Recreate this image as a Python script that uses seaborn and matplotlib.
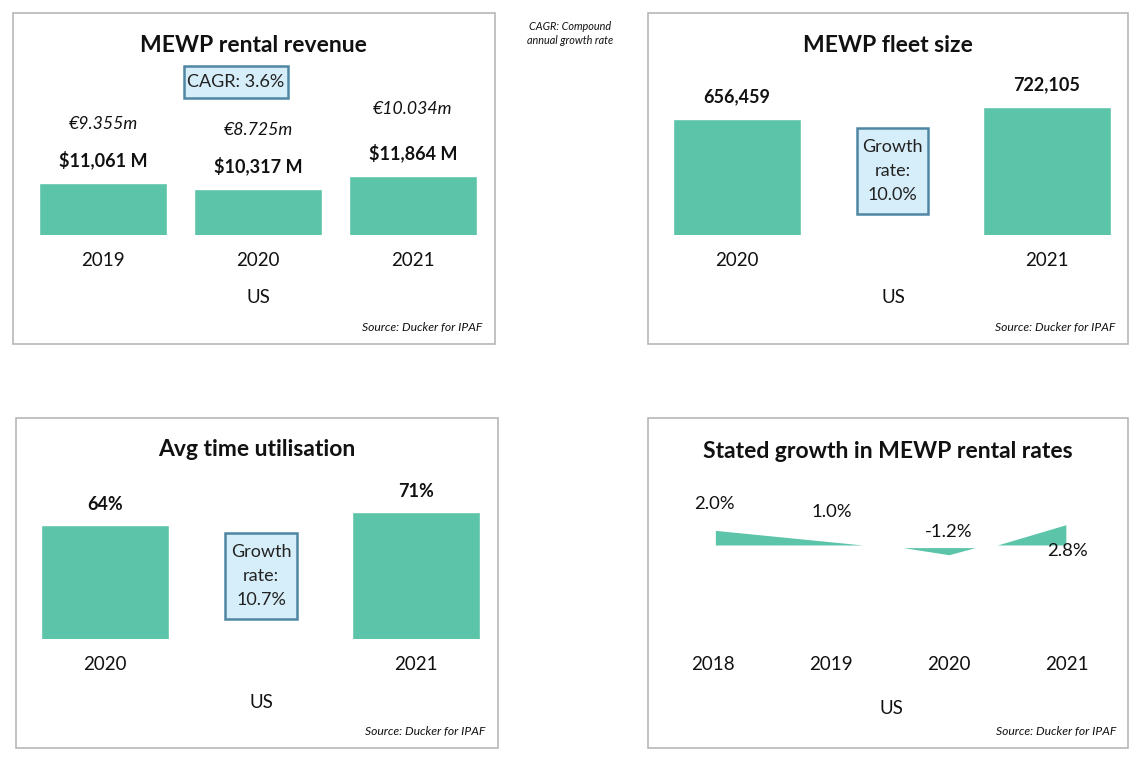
import matplotlib
matplotlib.use("Agg")
import matplotlib.pyplot as plt
from matplotlib.patches import Rectangle
import seaborn as sns

sns.set_theme(style="white")
plt.rcParams["font.family"] = ["Lato", "DejaVu Sans"]

W, H = 1140, 765
BAR = "#5bc4a9"

rev_years = ["2019", "2020", "2021"]
rev_usd = [11061, 10317, 11864]
rev_labels = ["$11,061 M", "$10,317 M", "$11,864 M"]
rev_eur = ["€9.355m", "€8.725m", "€10.034m"]

fleet_years = ["2020", "2021"]
fleet_size = [656459, 722105]
fleet_labels = ["656,459", "722,105"]

util_years = ["2020", "2021"]
util_pct = [64, 71]
util_labels = ["64%", "71%"]

rate_years = ["2018", "2019", "2020", "2021"]
rate_labels = ["2.0%", "1.0%", "-1.2%", "2.8%"]
# the wedges as they appear in the picture, one per run of the area
wedge_a_pos = [0.02, 1.27]
wedge_a_val = [1.95, 0.0]
wedge_b_pos = [1.61, 2.0, 2.22]
wedge_b_val = [-0.35, -1.3, -0.35]
wedge_c_pos = [2.41, 2.99]
wedge_c_val = [0.0, 2.7]

fig = plt.figure(figsize=(W / 100, H / 100), dpi=100, facecolor="white")


def fx(x):
    return x / W


def fy(y):
    return 1 - y / H


def put(x, y, s, size=13, ha="center", **kw):
    return fig.text(fx(x), fy(y), s, fontsize=size, ha=ha, va="center", color="#111111", **kw)


def frame(x0, y0, x1, y1):
    fig.add_artist(Rectangle((fx(x0), fy(y1)), (x1 - x0) / W, (y1 - y0) / H, transform=fig.transFigure,
                             fill=False, edgecolor="#b8b8b8", linewidth=1.2))


def callout(x0, y0, x1, y1, s):
    fig.add_artist(Rectangle((fx(x0), fy(y1)), (x1 - x0) / W, (y1 - y0) / H, transform=fig.transFigure,
                             facecolor="#d6eef9", edgecolor="#4f86a3", linewidth=1.8, zorder=5))
    fig.text(fx((x0 + x1) / 2), fy((y0 + y1) / 2), s, fontsize=13, ha="center", va="center",
             color="#222222", linespacing=1.6, zorder=6)


def make_axes(x0, x1, top, base, first, step):
    ax = fig.add_axes([fx(x0), fy(base), (x1 - x0) / W, (base - top) / H])
    ax.patch.set_alpha(0)
    sns.despine(ax=ax, left=True, bottom=True, top=True, right=True)
    ax._px = (x0, x1, first, step)
    return ax


def fix_axes(ax, ymin, ymax):
    x0, x1, first, step = ax._px
    ax.set_xlim((x0 - first) / step, (x1 - first) / step)
    ax.set_ylim(ymin, ymax)
    ax.set_xlabel("")
    ax.set_ylabel("")
    ax.set_yticks([])
    ax.tick_params(axis="x", length=0, pad=12, labelsize=13.5, labelcolor="#111111")


def bars(ax, cats, vals, ymin, ymax, width):
    sns.barplot(x=cats, y=vals, color=BAR, saturation=1, width=width, ax=ax)
    fix_axes(ax, ymin, ymax)


def above(ax, i, v, dy, s, **kw):
    ax.annotate(s, (i, v), xytext=(0, dy * 0.72), textcoords="offset points", ha="center", va="center",
                color="#111111", **kw)


# revenue
frame(13, 13, 495, 344)
ax1 = make_axes(20, 488, 60, 235, 103, 155)
bars(ax1, rev_years, rev_usd, 4880, 25713, 0.825)
for i, v in enumerate(rev_usd):
    above(ax1, i, v, 23, rev_labels[i], fontsize=13, fontweight="bold")
    above(ax1, i, v, [59, 59, 67][i], rev_eur[i], fontsize=12.7, fontstyle="italic")
put(253, 45, "MEWP rental revenue", 16.5, fontweight="bold")
callout(184, 66, 288, 98, "CAGR: 3.6%")
put(258, 298, "US", 13.5)
put(482, 328, "Source: Ducker for IPAF", 8.7, ha="right", fontstyle="italic")

put(570, 27, "CAGR: Compound", 7.8, fontstyle="italic")
put(570, 40, "annual growth rate", 7.8, fontstyle="italic")

# fleet
frame(648, 13, 1128, 344)
ax2 = make_axes(654, 1124, 60, 235, 737, 310)
bars(ax2, fleet_years, fleet_size, 24500, 980500, 0.41)
for i, v in enumerate(fleet_size):
    above(ax2, i, v, 23, fleet_labels[i], fontsize=13, fontweight="bold")
put(888, 45, "MEWP fleet size", 16.5, fontweight="bold")
callout(857, 128, 928, 214, "Growth\nrate:\n10.0%")
put(893, 298, "US", 13.5)
put(1115, 328, "Source: Ducker for IPAF", 8.7, ha="right", fontstyle="italic")

# utilisation
frame(16, 418, 498, 748)
ax3 = make_axes(22, 492, 480, 639, 105, 311)
bars(ax3, util_years, util_pct, 2.5, 88.1, 0.41)
for i, v in enumerate(util_pct):
    above(ax3, i, v, 20, util_labels[i], fontsize=13, fontweight="bold")
put(257, 450, "Avg time utilisation", 16.5, fontweight="bold")
callout(225, 533, 297, 619, "Growth\nrate:\n10.7%")
put(261, 702, "US", 13.5)
put(485, 732, "Source: Ducker for IPAF", 8.7, ha="right", fontstyle="italic")

# rental rates
frame(648, 418, 1128, 748)
ax4 = make_axes(654, 1126, 490, 639, 713, 118)
sns.lineplot(x=wedge_a_pos, y=wedge_a_val, color=BAR, linewidth=0, ax=ax4)
ax4.fill_between(wedge_a_pos, wedge_a_val, 0, color=BAR, linewidth=0)
sns.lineplot(x=wedge_b_pos, y=wedge_b_val, color=BAR, linewidth=0, ax=ax4)
ax4.fill_between(wedge_b_pos, wedge_b_val, wedge_b_val[0], color=BAR, linewidth=0)
sns.lineplot(x=wedge_c_pos, y=wedge_c_val, color=BAR, linewidth=0, ax=ax4)
ax4.fill_between(wedge_c_pos, wedge_c_val, 0, color=BAR, linewidth=0)
ax4.set_xticks(range(len(rate_years)), rate_years)
fix_axes(ax4, -12.53, 7.33)
for x, y, s in zip([714, 832, 949, 1068], [504, 512, 532, 551], rate_labels):
    put(x, y, s, 13.3)
put(888, 451, "Stated growth in MEWP rental rates", 16.5, fontweight="bold")
put(891, 709, "US", 13.5)
put(1116, 732, "Source: Ducker for IPAF", 8.7, ha="right", fontstyle="italic")

fig.savefig("out.png", dpi=100)
